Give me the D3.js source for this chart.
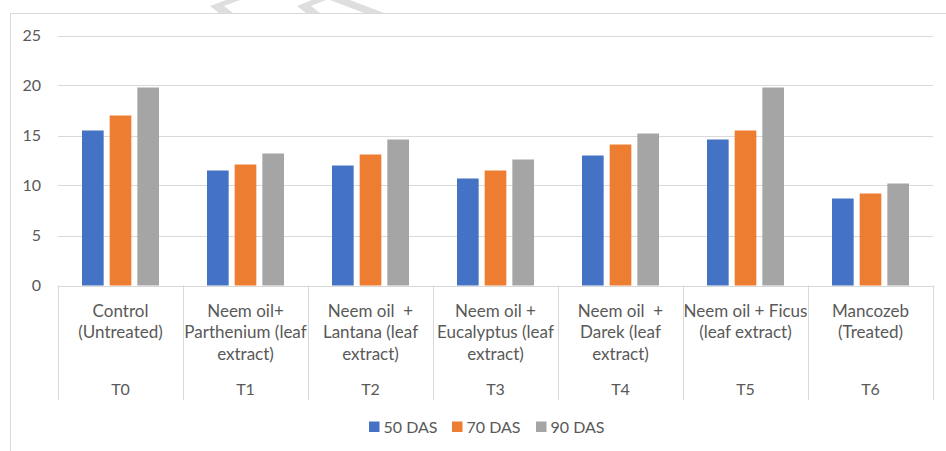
<!DOCTYPE html>
<html>
<head>
<meta charset="utf-8">
<script src="https://cdnjs.cloudflare.com/ajax/libs/d3/7.8.5/d3.min.js"></script>
<style>
  body { margin: 0; background: #fff; }
  text { font-family: Lato, "Open Sans", sans-serif; fill: #595959; }
</style>
</head>
<body>
<div id="chart"></div>
<script>
const codes = ["T0", "T1", "T2", "T3", "T4", "T5", "T6"];
const treatments = [
  ["Control", "(Untreated)"],
  ["Neem oil+", "Parthenium (leaf", "extract)"],
  ["Neem oil  +", "Lantana (leaf", "extract)"],
  ["Neem oil +", "Eucalyptus (leaf", "extract)"],
  ["Neem oil  +", "Darek (leaf", "extract)"],
  ["Neem oil + Ficus", "(leaf extract)"],
  ["Mancozeb", "(Treated)"]
];
const seriesNames = ["50 DAS", "70 DAS", "90 DAS"];
const das50 = [15.5, 11.5, 12.0, 10.7, 13.0, 14.6, 8.7];
const das70 = [17.0, 12.1, 13.1, 11.5, 14.1, 15.5, 9.2];
const das90 = [19.8, 13.2, 14.6, 12.6, 15.2, 19.8, 10.2];
const yTicks = [0, 5, 10, 15, 20, 25];
const colors = ["#4472c4", "#ed7d31", "#a5a5a5"];

const width = 946, height = 451;
const svg = d3.select("#chart").append("svg")
  .attr("width", width).attr("height", height);

// faint watermark pieces above the chart frame
const wm = [
  [[226, 0], [240, 0], [224, 6], [233, 13], [219, 13], [210, 6]],
  [[312, 0], [326, 0], [311, 6], [320, 13], [306, 13], [297, 6]],
  [[330, 0], [350, 0], [384, 13], [364, 13]]
];
svg.selectAll("path.wm").data(wm).join("path")
  .attr("class", "wm")
  .attr("d", d => "M" + d.join("L") + "Z")
  .attr("fill", "#dedede");

// chart frame
svg.append("rect")
  .attr("x", 10.5).attr("y", 13.5)
  .attr("width", 960).attr("height", 460)
  .attr("fill", "#fff").attr("stroke", "#d9d9d9");

const plot = { left: 58, right: 933, top: 35.5, bottom: 285.5 };

const x = d3.scaleBand().domain(codes).range([plot.left, plot.right]).padding(0);
const xs = d3.scaleBand().domain(seriesNames)
  .range([24, x.bandwidth() - 24]).paddingInner(0.217);
const y = d3.scaleLinear().domain([0, 25]).range([plot.bottom, plot.top]);

// gridlines
svg.append("g").selectAll("line").data(yTicks).join("line")
  .attr("x1", plot.left).attr("x2", plot.right)
  .attr("y1", d => Math.round(y(d)) + 0.5).attr("y2", d => Math.round(y(d)) + 0.5)
  .attr("stroke", "#d9d9d9");

// y axis labels
svg.append("g").selectAll("text").data(yTicks).join("text")
  .attr("x", 41).attr("y", d => y(d) + 5.5)
  .attr("text-anchor", "end")
  .style("font-size", "16px")
  .text(d => d);

// category separators
const seps = codes.map(c => x(c)).concat([plot.right]);
svg.append("g").selectAll("line").data(seps).join("line")
  .attr("x1", d => Math.round(d) + 0.5).attr("x2", d => Math.round(d) + 0.5)
  .attr("y1", plot.bottom).attr("y2", 400)
  .attr("stroke", "#d9d9d9");

// bars
const series = [das50, das70, das90];
const bars = svg.append("g");
series.forEach((vals, si) => {
  bars.selectAll("rect.s" + si).data(vals).join("rect")
    .attr("class", "s" + si)
    .attr("x", (d, i) => x(codes[i]) + xs(seriesNames[si]))
    .attr("width", xs.bandwidth())
    .attr("y", d => y(d))
    .attr("height", d => y(0) - y(d))
    .attr("fill", colors[si]);
});

// category labels
const lab = svg.append("g");
treatments.forEach((lines, i) => {
  const cx = x(codes[i]) + x.bandwidth() / 2;
  lines.forEach((t, j) => {
    lab.append("text")
      .attr("x", cx).attr("y", 316.5 + j * 21.7)
      .attr("text-anchor", "middle")
      .style("font-size", "17px")
      .style("white-space", "pre")
      .text(t);
  });
  lab.append("text")
    .attr("x", cx).attr("y", 395)
    .attr("text-anchor", "middle")
    .style("font-size", "16px")
    .text(codes[i]);
});

// legend
const legendX = [369, 452, 536];
const lg = svg.append("g");
seriesNames.forEach((s, i) => {
  lg.append("rect")
    .attr("x", legendX[i]).attr("y", 421.5)
    .attr("width", 10.5).attr("height", 10.5)
    .attr("fill", colors[i]);
  lg.append("text")
    .attr("x", legendX[i] + 14.5).attr("y", 432.5)
    .style("font-size", "16px")
    .text(s);
});
</script>
</body>
</html>
